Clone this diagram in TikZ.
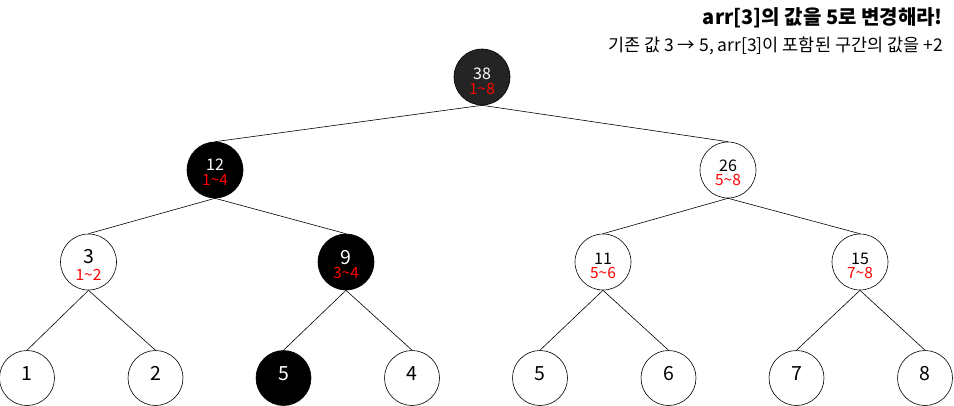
\documentclass[tikz,border=0pt]{standalone}
\usepackage{fontspec}
\setmainfont{Noto Sans CJK KR}
\begin{document}
\begin{tikzpicture}[x=1pt,y=-1pt,
  tn/.style={circle,draw=black,line width=0.6pt,minimum size=56pt,inner sep=0pt},
  dk/.style={tn,fill=black},
  rootc/.style={tn,fill=black!86},
  num/.style={font=\fontsize{16}{18}\selectfont,inner sep=0pt,text height=0.72em,text depth=0pt},
  bignum/.style={font=\fontsize{19.5}{21}\selectfont,inner sep=0pt,text height=0.72em,text depth=0pt},
  rng/.style={font=\fontsize{15.5}{17}\selectfont,text=red,inner sep=0pt,text height=0.72em,text depth=0pt},
  edge/.style={line width=0.6pt}]
\useasboundingbox (0,0) rectangle (954,405);
% nodes
\node[rootc] (r) at (482,77) {};
\node[dk] (a) at (215,170) {};
\node[tn] (b) at (728,170) {};
\node[tn] (c) at (88.5,262) {};
\node[dk] (d) at (346,262) {};
\node[tn] (e) at (603,262) {};
\node[tn] (f) at (860,262) {};
\node[tn,minimum size=55pt] (l1) at (27,378) {};
\node[tn,minimum size=55pt] (l2) at (155.5,378) {};
\node[dk,minimum size=55pt] (l3) at (283.5,378) {};
\node[tn,minimum size=55pt] (l4) at (412,378) {};
\node[tn,minimum size=55pt] (l5) at (540,378) {};
\node[tn,minimum size=55pt] (l6) at (668.5,378) {};
\node[tn,minimum size=55pt] (l7) at (796.5,378) {};
\node[tn,minimum size=55pt] (l8) at (925,378) {};
% edges
\draw[edge] (r.south) -- (a.north);
\draw[edge] (r.south) -- (b.north);
\draw[edge] (a.south) -- (c.north);
\draw[edge] (a.south) -- (d.north);
\draw[edge] (b.south) -- (e.north);
\draw[edge] (b.south) -- (f.north);
\draw[edge] (c.south) -- (l1.north);
\draw[edge] (c.south) -- (l2.north);
\draw[edge] (d.south) -- (l3.north);
\draw[edge] (d.south) -- (l4.north);
\draw[edge] (e.south) -- (l5.north);
\draw[edge] (e.south) -- (l6.north);
\draw[edge] (f.south) -- (l7.north);
\draw[edge] (f.south) -- (l8.north);
% texts
\node[num,text=white] (rt) at (482,75.8) {38};
\node[rng] (rr) at (482,90.5) {1\textasciitilde8};
\node[num,text=white] (at) at (215,167) {12};
\node[rng] (ar) at (215,181.5) {1\textasciitilde4};
\node[num] (bt) at (728,167.5) {26};
\node[rng] (br) at (728,181.5) {5\textasciitilde8};
\node[bignum] (ct) at (88.5,260) {3};
\node[rng] (cr) at (88.5,277) {1\textasciitilde2};
\node[bignum,text=white] (dt) at (346,260.5) {9};
\node[rng] (dr) at (346,275) {3\textasciitilde4};
\node[num] (et) at (603,261) {11};
\node[rng] (er) at (603,275) {5\textasciitilde6};
\node[num] (ft) at (860,261) {15};
\node[rng] (fr) at (860,274.8) {7\textasciitilde8};
\foreach \n/\v in {l1/1,l2/2,l4/4,l5/5,l6/6,l7/7,l8/8}
  \node[bignum] (\n t) at ([yshift=1.5pt]\n.center) {\v};
\node[bignum,text=white] (l3t) at ([yshift=1.5pt]l3.center) {5};
% titles
\node[anchor=east,inner sep=0pt,font=\fontsize{20}{22}\selectfont\bfseries] (title) at (943,18) {arr[3]의 값을 5로 변경해라!};
\node[anchor=east,inner sep=0pt,font=\fontsize{17.5}{19}\selectfont] (sub) at (943,46) {기존 값 3 → 5, arr[3]이 포함된 구간의 값을 +2};
\end{tikzpicture}
\end{document}
